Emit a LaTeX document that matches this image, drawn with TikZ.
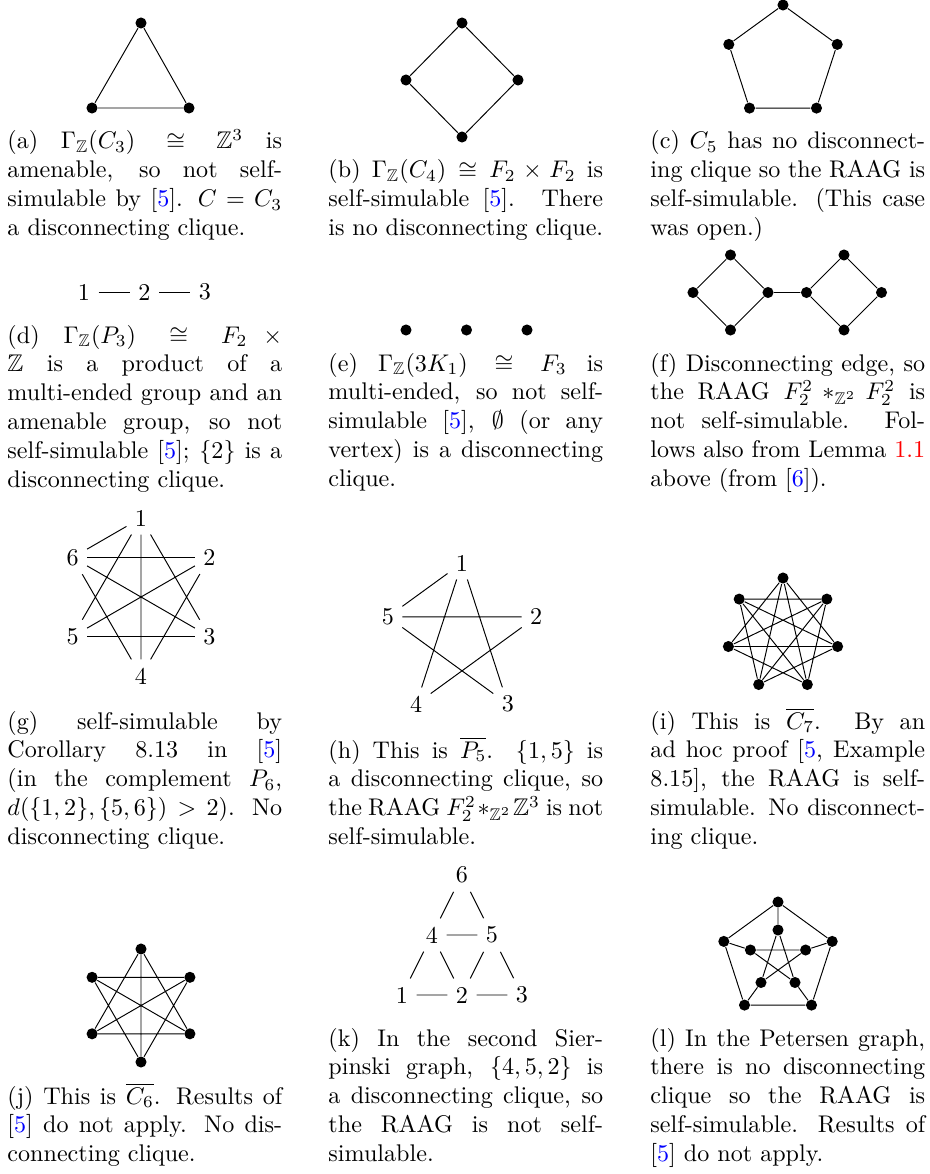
\documentclass[tikz,border=0pt]{standalone}
\usepackage{amsmath}
\usepackage{amssymb}
\usepackage{xcolor}
\usepackage{tikz}

\newcommand{\refnum}[1]{[\textcolor{blue}{#1}]}

\begin{document}
\begin{tikzpicture}[
    x=0.415pt, y=-0.415pt,
    vertex/.style={circle, fill, inner sep=0pt, minimum size=4.6pt},
    lbl/.style={inner sep=0.333em},
    capt/.style={anchor=base west, inner sep=0pt, text width=114pt, align=justify}
]
    \useasboundingbox (0,0) rectangle (929,1174);

    % (a)
    \node[vertex] (a1) at (141,23) {};
    \node[vertex] (a2) at (92,108) {};
    \node[vertex] (a3) at (189,108) {};
    \draw (a1) -- (a2) (a2) -- (a3) (a3) -- (a1);
    \node[capt] (capa) at (7,149) {(a) $\Gamma_{\mathbb{Z}}(C_3) \cong \mathbb{Z}^3$ is\linebreak amenable, so not self-\linebreak simulable by \refnum{5}. $C=C_3$\linebreak a disconnecting clique.};

    % (b)
    \node[vertex] (b1) at (462,23) {};
    \node[vertex] (b2) at (518,80) {};
    \node[vertex] (b3) at (462,137) {};
    \node[vertex] (b4) at (406,80) {};
    \draw (b1) -- (b2) (b2) -- (b3) (b3) -- (b4) (b4) -- (b1);
    \node[capt] (capb) at (328,178) {(b) $\Gamma_{\mathbb{Z}}(C_4) \cong F_2 \times F_2$ is\linebreak self-simulable \refnum{5}. There\linebreak is no disconnecting clique.};

    % (c)
    \node[vertex] (c1) at (783,5) {};
    \node[vertex] (c2) at (837.2,44.4) {};
    \node[vertex] (c3) at (816.5,108.1) {};
    \node[vertex] (c4) at (749.5,108.1) {};
    \node[vertex] (c5) at (728.8,44.4) {};
    \draw (c1) -- (c2) (c2) -- (c3) (c3) -- (c4) (c4) -- (c5) (c5) -- (c1);
    \node[capt] (capc) at (650,149) {(c) $C_5$ has no disconnect-\linebreak ing clique so the RAAG is\linebreak self-simulable. (This case\linebreak was open.)};

    % (d)
    \node[lbl] (d1) at (84,292) {1};
    \node[lbl] (d2) at (144.5,292) {2};
    \node[lbl] (d3) at (205,292) {3};
    \draw (d1) -- (d2) (d2) -- (d3);
    \node[capt] (capd) at (7,343) {(d) $\Gamma_{\mathbb{Z}}(P_3) \cong F_2 \times \penalty-10000 \mathbb{Z}$ is a product of a\linebreak multi-ended group and an\linebreak amenable group, so not\linebreak self-simulable \refnum{5}; $\{2\}$ is a\linebreak disconnecting clique.};

    % (e)
    \node[vertex] (e1) at (406,330) {};
    \node[vertex] (e2) at (466.5,330) {};
    \node[vertex] (e3) at (527,330) {};
    \node[capt] (cape) at (328,371) {(e) $\Gamma_{\mathbb{Z}}(3K_1) \cong F_3$ is\linebreak multi-ended, so not self-\linebreak simulable \refnum{5}, $\emptyset$ (or any\linebreak vertex) is a disconnecting\linebreak clique.};

    % (f)
    \node[vertex] (f1) at (730.5,255) {};
    \node[vertex] (f2) at (693,292.5) {};
    \node[vertex] (f3) at (730.5,330) {};
    \node[vertex] (f4) at (768,292.5) {};
    \node[vertex] (f5) at (806.5,292.5) {};
    \node[vertex] (f6) at (844,255) {};
    \node[vertex] (f7) at (881.5,292.5) {};
    \node[vertex] (f8) at (844,330) {};
    \draw (f1) -- (f2) (f2) -- (f3) (f3) -- (f4) (f4) -- (f1) (f4) -- (f5)
          (f5) -- (f6) (f6) -- (f7) (f7) -- (f8) (f8) -- (f5);
    \node[capt] (capf) at (650,371) {(f) Disconnecting edge, so\linebreak the RAAG $F_2^2 *_{\mathbb{Z}^2} F_2^2$ is\linebreak not self-simulable. Fol-\linebreak lows also from Lemma \textcolor{red}{1.1}\linebreak above (from \refnum{6}).};

    % (g)
    \node[lbl] (g1) at (141,518) {1};
    \node[lbl] (g2) at (209.4,557.5) {2};
    \node[lbl] (g3) at (209.4,636.5) {3};
    \node[lbl] (g4) at (141,676) {4};
    \node[lbl] (g5) at (72.6,636.5) {5};
    \node[lbl] (g6) at (72.6,557.5) {6};
    \draw (g1) -- (g3) (g1) -- (g4) (g1) -- (g5) (g1) -- (g6)
          (g2) -- (g4) (g2) -- (g5) (g2) -- (g6)
          (g3) -- (g5) (g3) -- (g6) (g4) -- (g6);
    \node[capt] (capg) at (7,729) {(g) self-simulable by\linebreak Corollary 8.13 in \refnum{5}\linebreak (in the complement $P_6$,\linebreak $d(\{1,2\},\{5,6\}) > 2$). No\linebreak disconnecting clique.};

    % (h)
    \node[lbl] (h1) at (462,563) {1};
    \node[lbl] (h2) at (536.2,616.9) {2};
    \node[lbl] (h3) at (507.8,704.1) {3};
    \node[lbl] (h4) at (416.2,704.1) {4};
    \node[lbl] (h5) at (387.8,616.9) {5};
    \draw (h1) -- (h5) (h1) -- (h4) (h1) -- (h3)
          (h5) -- (h2) (h5) -- (h3) (h2) -- (h4);
    \node[capt] (caph) at (328,758) {(h) This is $\overline{P_5}$. $\{1,5\}$ is\linebreak a disconnecting clique, so\linebreak the RAAG $F_2^2 *_{\mathbb{Z}^2} \mathbb{Z}^3$ is not\linebreak self-simulable.};

    % (i)
    \node[vertex] (i0) at (783,578) {};
    \node[vertex] (i1) at (739.2,599.1) {};
    \node[vertex] (i2) at (728.4,646.5) {};
    \node[vertex] (i3) at (758.7,684.5) {};
    \node[vertex] (i4) at (807.3,684.5) {};
    \node[vertex] (i5) at (837.6,646.5) {};
    \node[vertex] (i6) at (826.8,599.1) {};
    \draw (i0) -- (i2) (i0) -- (i3) (i0) -- (i4) (i0) -- (i5)
          (i1) -- (i3) (i1) -- (i4) (i1) -- (i5) (i1) -- (i6)
          (i2) -- (i4) (i2) -- (i5) (i2) -- (i6)
          (i3) -- (i5) (i3) -- (i6) (i4) -- (i6);
    \node[capt] (capi) at (650,729) {(i) This is $\overline{C_7}$. By an\linebreak ad hoc proof [\textcolor{blue}{5}, Example\linebreak 8.15], the RAAG is self-\linebreak simulable. No disconnect-\linebreak ing clique.};

    % (j)
    \node[vertex] (j1) at (141,949) {};
    \node[vertex] (j2) at (189.9,977.3) {};
    \node[vertex] (j3) at (189.9,1033.8) {};
    \node[vertex] (j4) at (141,1062) {};
    \node[vertex] (j5) at (92.1,1033.8) {};
    \node[vertex] (j6) at (92.1,977.3) {};
    \draw (j1) -- (j3) (j1) -- (j4) (j1) -- (j5)
          (j2) -- (j4) (j2) -- (j5) (j2) -- (j6)
          (j3) -- (j5) (j3) -- (j6) (j4) -- (j6);
    \node[capt] (capj) at (7,1104) {(j) This is $\overline{C_6}$. Results of\linebreak \refnum{5} do not apply. No dis-\linebreak connecting clique.};

    % (k)
    \node[lbl] (k6) at (462,875) {6};
    \node[lbl] (k4) at (432,935) {4};
    \node[lbl] (k5) at (492,935) {5};
    \node[lbl] (k1) at (402,995) {1};
    \node[lbl] (k2) at (462,995) {2};
    \node[lbl] (k3) at (522,995) {3};
    \draw (k6) -- (k4) (k6) -- (k5) (k4) -- (k5)
          (k4) -- (k1) (k4) -- (k2) (k5) -- (k2) (k5) -- (k3)
          (k1) -- (k2) (k2) -- (k3);
    \node[capt] (capk) at (328,1046) {(k) In the second Sier-\linebreak pinski graph, $\{4,5,2\}$ is\linebreak a disconnecting clique, so\linebreak the RAAG is not self-\linebreak simulable.};

    % (l)
    \node[vertex] (lo1) at (778,902) {};
    \node[vertex] (lo2) at (832.2,941.4) {};
    \node[vertex] (lo3) at (811.5,1005.1) {};
    \node[vertex] (lo4) at (744.5,1005.1) {};
    \node[vertex] (lo5) at (723.8,941.4) {};
    \node[vertex] (li1) at (778,930) {};
    \node[vertex] (li2) at (805.6,950) {};
    \node[vertex] (li3) at (795,982.5) {};
    \node[vertex] (li4) at (761,982.5) {};
    \node[vertex] (li5) at (750.4,950) {};
    \draw (lo1) -- (lo2) (lo2) -- (lo3) (lo3) -- (lo4) (lo4) -- (lo5) (lo5) -- (lo1)
          (lo1) -- (li1) (lo2) -- (li2) (lo3) -- (li3) (lo4) -- (li4) (lo5) -- (li5)
          (li1) -- (li3) (li3) -- (li5) (li5) -- (li2) (li2) -- (li4) (li4) -- (li1);
    \node[capt] (capl) at (650,1046) {(l) In the Petersen graph,\linebreak there is no disconnecting\linebreak clique so the RAAG is\linebreak self-simulable. Results of\linebreak \refnum{5} do not apply.};
\end{tikzpicture}
\end{document}
